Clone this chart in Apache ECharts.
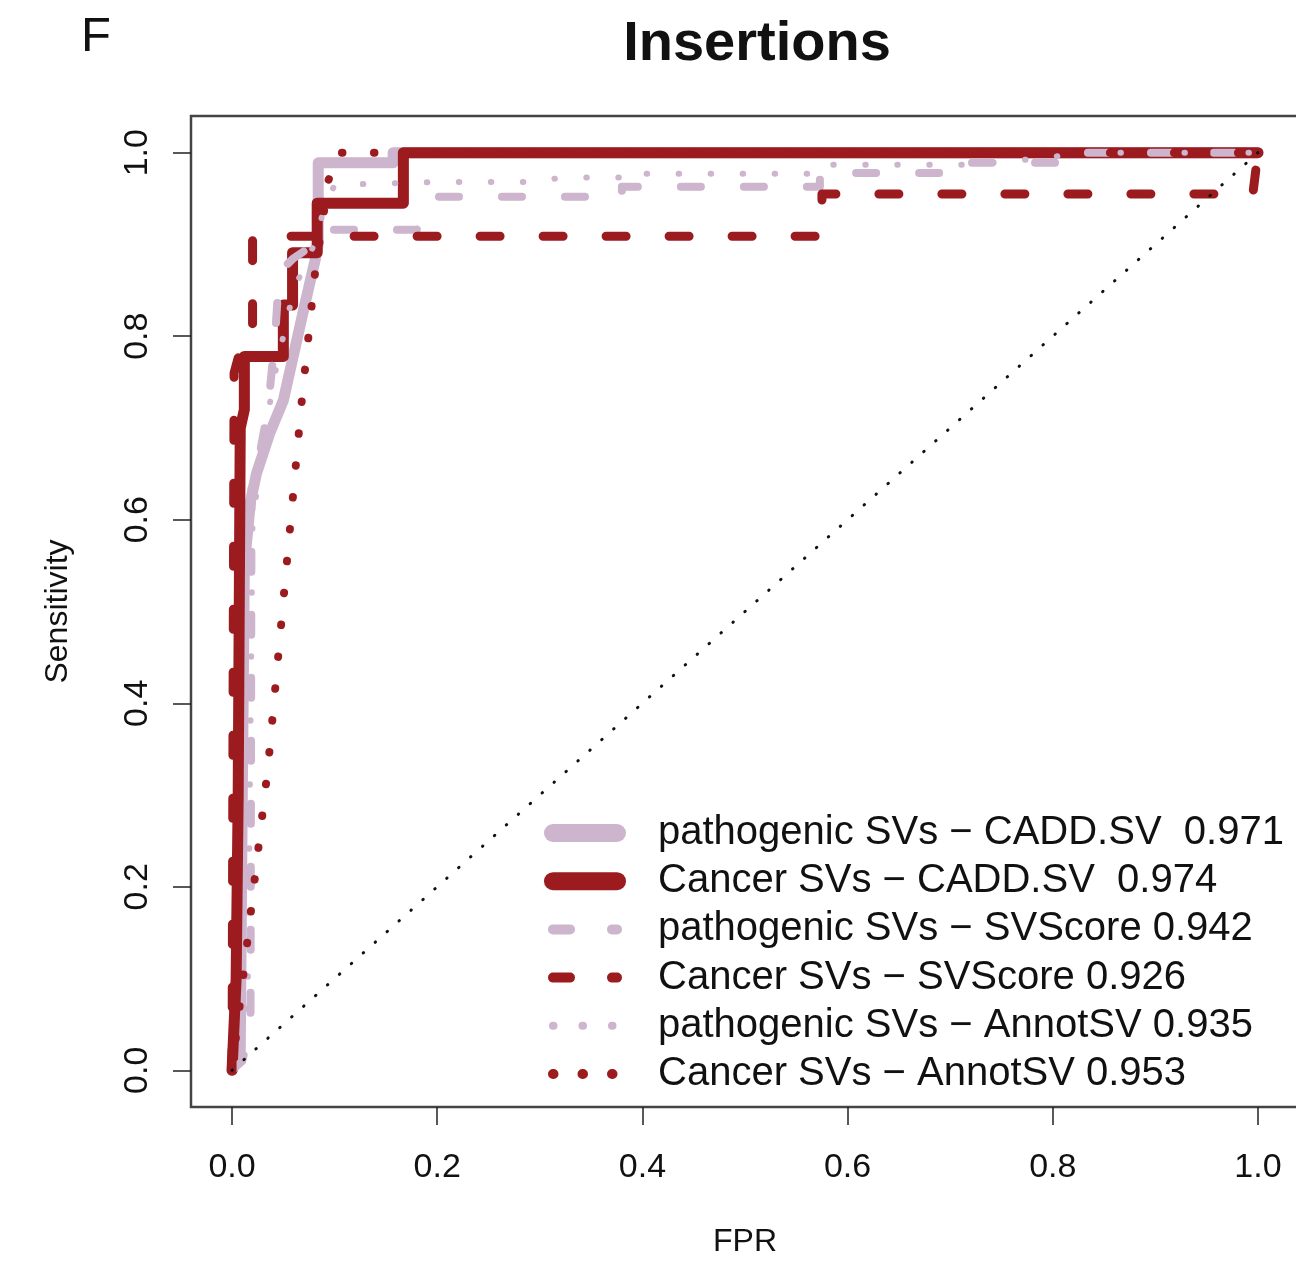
<!DOCTYPE html>
<html>
<head>
<meta charset="utf-8">
<script src="https://cdn.jsdelivr.net/npm/echarts@6/dist/echarts.min.js"></script>
<style>
html,body{margin:0;padding:0;background:#fff;}
#chart{width:1296px;height:1271px;}
</style>
</head>
<body>
<div id="chart"></div>
<script>
// ---- data (FPR, Sensitivity) ----
const seriesNames = [
  'pathogenic SVs \u2212 CADD.SV  0.971',
  'Cancer SVs \u2212 CADD.SV  0.974',
  'pathogenic SVs \u2212 SVScore 0.942',
  'Cancer SVs \u2212 SVScore 0.926',
  'pathogenic SVs \u2212 AnnotSV 0.935',
  'Cancer SVs \u2212 AnnotSV 0.953'
];
const pathCADD = [[0,0],[0.008,0.02],[0.01,0.3],[0.012,0.55],[0.018,0.62],[0.024,0.651],[0.037,0.695],[0.05,0.73],[0.06,0.78],[0.07,0.83],[0.081,0.883],[0.084,0.9],[0.084,0.989],[0.157,0.989],[0.157,1],[1,1]];
const cancerCADD = [[0,0],[0.004,0.1],[0.006,0.3],[0.007,0.5],[0.008,0.7],[0.012,0.72],[0.012,0.778],[0.05,0.778],[0.05,0.834],[0.059,0.834],[0.059,0.891],[0.083,0.891],[0.083,0.945],[0.167,0.945],[0.167,1],[1,1]];
const pathSVScore = [[0,0],[0.01,0.01],[0.018,0.05],[0.019,0.65],[0.025,0.66],[0.035,0.72],[0.042,0.8],[0.046,0.87],[0.06,0.885],[0.08,0.9],[0.085,0.916],[0.18,0.916],[0.185,0.94],[0.2,0.952],[0.38,0.952],[0.38,0.963],[0.573,0.963],[0.573,0.978],[0.715,0.978],[0.715,0.989],[0.81,0.989],[0.81,1],[1,1]];
const cancerSVScore = [[0,0],[0.001,0.4],[0.002,0.76],[0.008,0.785],[0.02,0.79],[0.02,0.909],[0.575,0.909],[0.575,0.955],[0.995,0.955],[1,1]];
const pathAnnotSV = [[0,0],[0.015,0.05],[0.02,0.6],[0.04,0.75],[0.06,0.85],[0.08,0.9],[0.09,0.94],[0.1,0.965],[0.2,0.968],[0.3,0.968],[0.32,0.973],[0.38,0.973],[0.38,0.977],[0.57,0.977],[0.575,0.987],[0.72,0.987],[0.75,0.99],[0.8,0.995],[0.82,1],[1,1]];
const cancerAnnotSV = [[0,0],[0.035,0.33],[0.068,0.73],[0.081,0.87],[0.094,0.97],[0.104,1],[1,1]];
const diagonal = [[0,0],[1,1]];
const xTicks = [0, 0.2, 0.4, 0.6, 0.8, 1.0];
const yTicks = [0, 0.2, 0.4, 0.6, 0.8, 1.0];

const LIGHT = '#CDB5CD';
const DARK = '#9B1B1F';
const FONT = "'Liberation Sans', Arial, sans-serif";

const styles = [
  {color: LIGHT, width: 11, type: 'solid', lw: 18, ltype: 'solid'},
  {color: DARK, width: 11, type: 'solid', lw: 18, ltype: 'solid'},
  {color: LIGHT, width: 8, type: [20, 43], lw: 10, ltype: [17, 42]},
  {color: DARK, width: 9, type: [20, 43], lw: 10, ltype: [17, 42]},
  {color: LIGHT, width: 6, type: [0.5, 31.5], lw: 8, ltype: [0.5, 29]},
  {color: DARK, width: 8, type: [0.5, 31.5], lw: 10, ltype: [0.5, 29]}
];
const dataList = [pathCADD, cancerCADD, pathSVScore, cancerSVScore, pathAnnotSV, cancerAnnotSV];

const series = dataList.map((d, i) => ({
  name: seriesNames[i],
  type: 'line',
  data: d,
  showSymbol: false,
  symbol: 'none',
  animation: false,
  silent: true,
  lineStyle: {color: styles[i].color, width: styles[i].width, type: styles[i].type, cap: 'round', join: 'round'},
  itemStyle: {color: styles[i].color}
}));
series.push({
  name: 'diag',
  type: 'line',
  data: diagonal,
  showSymbol: false,
  symbol: 'none',
  animation: false,
  silent: true,
  lineStyle: {color: '#111', width: 3, type: [0.5, 15.5], cap: 'round'},
  z: 3
});

const chart = echarts.init(document.getElementById('chart'), null, {renderer: 'canvas'});
chart.setOption({
  backgroundColor: '#fff',
  animation: false,
  title: {
    text: 'Insertions',
    left: 752,
    top: 12,
    textAlign: 'center',
    textStyle: {fontFamily: FONT, fontSize: 56, fontWeight: 'bold', color: '#111', lineHeight: 56}
  },
  graphic: [{
    type: 'text', left: 81, top: 13,
    style: {text: 'F', fontFamily: FONT, fontSize: 49, fill: '#111'}
  }],
  grid: {
    left: 191, top: 116, width: 1108, height: 991,
    show: true, borderColor: '#444', borderWidth: 2.5, backgroundColor: 'transparent',
    containLabel: false, outerBoundsMode: 'none'
  },
  legend: {
    orient: 'vertical',
    left: 539,
    top: 808,
    itemWidth: 64,
    itemHeight: 20,
    itemGap: 8.2,
    selectedMode: false,
    itemStyle: {opacity: 0},
    textStyle: {fontFamily: FONT, fontSize: 40, color: '#111', lineHeight: 40, padding: [0, 0, 0, 36]},
    data: seriesNames.map((n, i) => ({
      name: n,
      lineStyle: {color: styles[i].color, width: styles[i].lw, type: styles[i].ltype, cap: 'round'},
      itemStyle: {opacity: 0}
    }))
  },
  xAxis: {
    type: 'value', min: -0.04, max: 1.04,
    axisLine: {show: false, onZero: false},
    splitLine: {show: false},
    axisTick: {show: true, inside: false, customValues: xTicks, length: 18, lineStyle: {color: '#222', width: 1.5}},
    axisLabel: {customValues: xTicks, formatter: v => v.toFixed(1), fontFamily: FONT, fontSize: 34, color: '#111', margin: 44},
    name: 'FPR', nameLocation: 'middle', nameGap: 119,
    nameTextStyle: {fontFamily: FONT, fontSize: 32, color: '#111'}
  },
  yAxis: {
    type: 'value', min: -0.04, max: 1.04,
    axisLine: {show: false, onZero: false},
    splitLine: {show: false},
    axisTick: {show: true, inside: false, customValues: yTicks, length: 18, lineStyle: {color: '#222', width: 1.5}},
    axisLabel: {customValues: yTicks, rotate: 90, formatter: v => v.toFixed(1), fontFamily: FONT, fontSize: 34, color: '#111', margin: 36},
    name: 'Sensitivity', nameLocation: 'middle', nameGap: 117,
    nameTextStyle: {fontFamily: FONT, fontSize: 32, color: '#111'}
  },
  series: series
});
</script>
</body>
</html>
